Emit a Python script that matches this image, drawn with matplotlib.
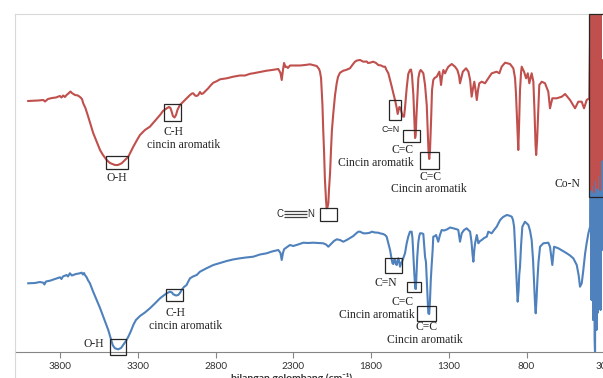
import matplotlib.pyplot as plt
from matplotlib.patches import Rectangle
from matplotlib.lines import Line2D

# spektrum FTIR: bilangan gelombang (cm-1) dan transmitansi (satuan relatif)
wn_merah = [4006, 3943, 3909, 3898, 3879, 3853, 3828, 3802, 3792, 3781, 3770, 3759, 3744, 3734,
            3725, 3705, 3686, 3673, 3660, 3652, 3638, 3620, 3588, 3544, 3525, 3501, 3480, 3448,
            3429, 3405, 3384, 3362, 3330, 3306, 3287, 3255, 3223, 3191, 3158, 3139, 3115, 3100,
            3091, 3083, 3075, 3065, 3055, 3046, 3030, 2997, 2978, 2965, 2952, 2944, 2933, 2922,
            2912, 2901, 2891, 2880, 2862, 2848, 2830, 2815, 2793, 2772, 2729, 2687, 2644, 2611,
            2579, 2558, 2515, 2472, 2438, 2397, 2383, 2375, 2367, 2360, 2351, 2343, 2335, 2322,
            2290, 2257, 2225, 2193, 2150, 2135, 2129, 2122, 2118, 2113, 2108, 2103, 2097, 2090,
            2086, 2080, 2075, 2071, 2064, 2058, 2052, 2043, 2032, 2021, 2013, 2000, 1979, 1962,
            1936, 1923, 1904, 1891, 1871, 1850, 1828, 1820, 1807, 1786, 1768, 1754, 1736, 1721,
            1710, 1701, 1689, 1678, 1667, 1657, 1646, 1635, 1629, 1624, 1618, 1611, 1603, 1595,
            1588, 1582, 1571, 1561, 1550, 1543, 1537, 1528, 1522, 1517, 1513, 1508, 1503, 1496,
            1488, 1481, 1472, 1464, 1453, 1442, 1436, 1431, 1426, 1421, 1414, 1408, 1400, 1392,
            1378, 1361, 1355, 1350, 1344, 1335, 1324, 1315, 1303, 1281, 1260, 1245, 1234, 1228,
            1220, 1210, 1189, 1174, 1163, 1153, 1144, 1136, 1128, 1120, 1112, 1104, 1088, 1067,
            1046, 1024, 992, 975, 960, 938, 906, 885, 874, 868, 861, 853, 848, 842, 835, 831,
            816, 803, 792, 782, 767, 756, 749, 742, 738, 732, 724, 718, 702, 681, 660, 649, 634,
            606, 573, 552, 520, 488, 467, 445, 430, 413, 396,
            388, 385, 382, 375, 372, 366, 362, 356, 353, 346, 343, 337, 333, 327, 324, 317, 314,
            308, 301]
t_merah = [251, 251.5, 252, 250.5, 253, 254, 254.5, 256, 254.5, 256.5, 255, 257, 259, 260.5,
           259, 257, 256.5, 255, 253, 248.7, 244, 235.3, 219, 202, 197, 192, 189, 187,
           187, 188.7, 192, 195.3, 205.3, 212, 217, 222, 225.3, 231, 237, 241, 243.7, 245,
           244, 240.3, 236, 234.5, 237, 242, 247, 252, 255, 257, 258.5, 258.7, 256.5, 256,
           257, 260, 258, 258.7, 261.5, 263.7, 267, 269.3, 270.8, 272.7, 273.7, 275.3, 276.5, 276.5,
           278.2, 278.7, 280, 281.3, 282, 283, 279, 272, 282, 289, 285, 285.3, 284, 286.5,
           286.5, 286.5, 287, 287.7, 286, 283, 280.3, 274, 262, 247, 222, 202, 172, 152,
           143.7, 145, 149, 162, 179, 202, 222, 239, 257, 269, 275, 279.3, 281.3, 282,
           283.7, 286.5, 290.3, 291.5, 292, 290.3, 290.5, 289, 289.3, 290.3, 289, 287, 286.5, 285.3,
           285.3, 282, 278.7, 272, 265.3, 258.7, 252, 244, 238, 241, 245, 244, 239, 235.5,
           235.3, 244, 264, 278, 282, 282.5, 277, 257, 232, 214, 217, 237, 252, 274,
           280, 282, 280.5, 278.7, 267, 247, 222, 202, 193, 202, 232, 262, 272, 274,
           275.3, 280.3, 274, 267, 275, 282, 278.7, 282, 285.3, 288, 285.3, 282, 276, 268.7,
           274, 280.3, 283.7, 280.3, 272, 255.3, 264, 270.3, 262, 252, 262, 268.7, 270.3, 268.7,
           273.7, 278.7, 280.3, 278.7, 285.3, 289.3, 288, 283.7, 274, 258.7, 232, 202, 227, 262, 280, 285.3,
           280.3, 273.7, 278.7, 268.7, 278.7, 270.3, 242, 207, 197, 212, 242, 267, 270.3, 268.7, 260.3, 243.7, 253.7,
           253.7, 255.3, 258, 252, 243.7, 250.3, 250.3, 243.7, 252, 253.7,
           360, 162, 360, 167, 360, 160, 350, 172, 360, 164, 360, 177, 345, 162, 360, 192, 292,
           232, 272]

wn_biru = [4006, 3963, 3931, 3909, 3902, 3892, 3866, 3834, 3802, 3792, 3783, 3759, 3750, 3738,
           3725, 3716, 3699, 3680, 3662, 3654, 3647, 3641, 3630, 3622, 3609, 3590, 3566, 3544,
           3523, 3506, 3491, 3480, 3469, 3461, 3448, 3427, 3409, 3395, 3377, 3362, 3345, 3330,
           3313, 3287, 3255, 3223, 3191, 3158, 3139, 3115, 3094, 3081, 3073, 3055, 3041, 3030,
           3019, 3004, 2987, 2978, 2965, 2946, 2922, 2901, 2862, 2815, 2772, 2729, 2689, 2644,
           2605, 2558, 2515, 2472, 2438, 2397, 2383, 2375, 2367, 2360, 2343, 2322, 2301, 2270,
           2236, 2206, 2172, 2142, 2108, 2090, 2075, 2064, 2053, 2039, 2021, 2000, 1979, 1957,
           1936, 1914, 1897, 1882, 1871, 1850, 1828, 1807, 1796, 1775, 1754, 1743, 1723, 1710,
           1700, 1689, 1678, 1667, 1662, 1657, 1651, 1646, 1640, 1635, 1630, 1625, 1619, 1614,
           1606, 1597, 1588, 1582, 1571, 1561, 1550, 1539, 1534, 1528, 1522, 1516, 1512, 1508,
           1503, 1496, 1490, 1485, 1474, 1464, 1453, 1447, 1440, 1432, 1426, 1421, 1416, 1411,
           1404, 1400, 1389, 1382, 1368, 1357, 1346, 1331, 1313, 1292, 1271, 1249, 1239, 1233,
           1228, 1221, 1217, 1202, 1185, 1163, 1154, 1147, 1142, 1136, 1131, 1120, 1110, 1099,
           1088, 1073, 1056, 1046, 1024, 1009, 992, 970, 951, 927, 913, 895, 887, 880, 874,
           868, 861, 857, 851, 847, 842, 835, 827, 810, 788, 777, 767, 758, 752, 745, 741,
           736, 730, 723, 713, 692, 660, 649, 642, 634, 628, 623, 595, 571, 541, 520, 499,
           477, 465, 456, 445, 436, 423, 413, 402, 391,
           388, 382, 378, 372, 369, 362, 359, 356, 350, 346, 343, 340, 333, 330, 324, 320, 314,
           308, 301]
t_biru = [68.7, 69, 70, 69.3, 67.5, 70.5, 71.3, 73, 74.7, 73, 75.5, 77, 75.5, 78.7,
          76.5, 77, 78, 78.5, 79.3, 77.5, 79, 77, 74.7, 72, 68.7, 61, 52, 44,
          35.3, 28.5, 22, 16, 10.3, 6.5, 3.7, 2.7, 4, 7, 11, 15.3, 21, 27,
          32, 36, 39.5, 43.7, 48.5, 53.7, 56, 58.7, 60.3, 59.5, 57.7, 56.5, 57, 59,
          62, 65, 67, 70, 73.7, 75.5, 77, 80.3, 83.5, 87, 89, 91, 92.5, 93.7,
          94.5, 95.3, 97.5, 98.7, 100.5, 102, 99, 92, 99, 102.7, 104.7, 107, 106, 107.5,
          109.3, 109, 109.3, 109, 108.7, 107.5, 105.3, 107, 108.7, 111, 112.7, 112, 110.3, 112,
          114, 116, 118.5, 120.3, 120.3, 118.7, 118.7, 119.3, 120.3, 119.5, 119.3, 118.7, 118, 117,
          115.3, 108.7, 102, 92, 88.5, 88, 92.5, 92, 88, 87, 91, 93.7, 90, 85.3,
          89, 92, 96, 98.7, 108.7, 115.3, 120.3, 120.3, 114, 95.3, 78.7, 63.5, 63, 77,
          95.3, 110, 116, 118.7, 118.7, 118, 95.3, 90, 67, 38.7, 38, 52, 72, 85.3,
          102, 115.3, 116, 117, 110.3, 117, 122, 121.5, 122.5, 124.5, 123.7, 122.7, 122, 116,
          110.3, 116, 118.7, 122, 123.7, 120.3, 110, 97, 90.3, 102, 108.7, 117, 108.7, 111,
          112, 114, 115.3, 120.3, 118.7, 122, 125.3, 132, 135, 137, 136.5, 135.3, 132, 125.3, 107,
          85.3, 62, 50.3, 62, 77, 85.3, 107, 125.3, 130.3, 127, 121, 112, 92, 70.3, 47, 38.7,
          52, 72, 90, 105.3, 108.7, 109.3, 105.3, 97, 87, 97, 105.3, 103.7, 101.5, 98.7, 96.5, 93.7,
          87, 77, 65.3, 68.7, 80, 98.7, 109, 118.7, 125.3,
          360, 52, 360, 32, 360, 12, -3, 360, 22, 332, 39, 360, 62, 360, 42, 252, 102,
          202, 152]

ticks = [3800, 3300, 2800, 2300, 1800, 1300, 800, 300]

# kotak penanda pita: (wn kiri, wn kanan, T bawah, T atas)
kotak_merah = [(3508, 3362, 182.7, 196.3), (3131, 3023, 231.3, 247.7), (2129, 2021, 131.3, 143.7),
               (1685, 1609, 232, 252), (1593, 1485, 209.7, 222), (1485, 1365, 182.7, 200.3),
               (396, 289, 155.3, 338)]
kotak_biru = [(3480, 3377, -3, 12.7), (3122, 3008, 51, 63), (1711, 1603, 78.7, 93.7),
              (1567, 1481, 59.7, 69.7), (1503, 1384, 31.3, 46)]

# label serif: (teks, wn, T)
label_serif = [("O-H", 3435, 174), ("C-H", 3072, 220.3), ("cincin aromatik", 3005, 207),
               ("C=C", 1601, 202), ("Cincin aromatik", 1768, 189.5),
               ("C=C", 1421, 175), ("Cincin aromatik", 1427, 163), ("Co-N", 536, 167.7),
               ("O-H", 3585, 8), ("C-H", 3059, 38.7), ("cincin aromatik", 2992, 26),
               ("C=N", 1705, 68.7), ("C=C", 1595, 50.3), ("Cincin aromatik", 1765, 37),
               ("C=C", 1442, 25.3), ("Cincin aromatik", 1455, 12)]

merah = '#C0504D'
biru = '#4F81BD'

fig = plt.figure(figsize=(6.03, 3.78), dpi=100)
ax = fig.add_axes([15 / 603, 26 / 378, 595 / 603, 338 / 378])

ax.plot(wn_biru, t_biru, color=biru, lw=1.5)
ax.plot(wn_merah, t_merah, color=merah, lw=1.5)

for x0, x1, y0, y1 in kotak_merah + kotak_biru:
    ax.add_patch(Rectangle((x1, y0), x0 - x1, y1 - y0, fill=False, ec='#262626',
                           lw=0.9, clip_on=False, zorder=3))

for teks, x, y in label_serif:
    ax.text(x, y, teks, family='Liberation Serif', fontsize=8.4, color='#262626',
            ha='center', va='center')

# C≡N dan C=N (huruf sans)
ax.text(2386, 138, "C", family='Liberation Sans', fontsize=7, color='#262626', ha='center', va='center')
ax.text(2190, 138, "N", family='Liberation Sans', fontsize=7, color='#262626', ha='center', va='center')
ax.hlines([141, 138, 135], 2212, 2362, color='#404040', lw=0.9)
ax.text(1672, 222.7, "C=N", family='Liberation Sans', fontsize=6.5, color='#262626', ha='center', va='center')

ax.set_xlim(4091, 263)
ax.set_ylim(0, 338)
ax.set_xticks(ticks)
ax.set_xticklabels([str(t) for t in ticks], family=['Lato', 'DejaVu Sans'], fontsize=7.2, color='#333333')
ax.set_yticks([])
ax.tick_params(axis='x', direction='out', length=4, width=0.8, color='#868686', pad=3)
ax.set_xlabel('bilangan gelombang (cm⁻¹)', family=['Lato', 'DejaVu Sans'], fontsize=7.5,
              fontweight='bold', color='#333333')
ax.xaxis.set_label_coords(0.4655, -0.063)

ax.spines['right'].set_visible(False)
ax.spines['left'].set_color('#d9d9d9')
ax.spines['top'].set_color('#d9d9d9')
ax.spines['bottom'].set_color('#868686')
ax.spines['bottom'].set_linewidth(0.8)

# garis tepi bingkai kiri berlanjut sampai bawah gambar
fig.add_artist(Line2D([15 / 603, 15 / 603], [0, 26 / 378], color='#d9d9d9', lw=0.8))

fig.savefig('out.png', dpi=100)
